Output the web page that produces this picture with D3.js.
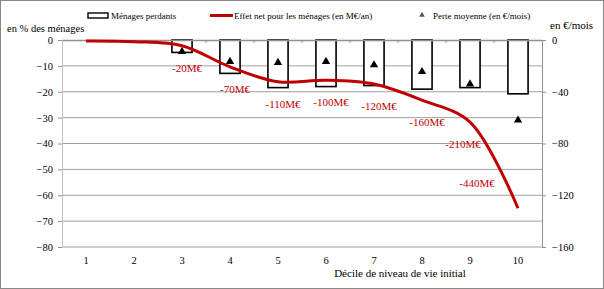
<!DOCTYPE html>
<html><head><meta charset="utf-8">
<script src="https://cdn.jsdelivr.net/npm/d3@7"></script>
<style>
body{margin:0;background:#fff;}
text{font-family:"Liberation Serif","Times New Roman",serif;}
</style></head>
<body><svg id="c" width="604" height="289"></svg>
<script>
const deciles = ["1","2","3","4","5","6","7","8","9","10"];
const menagesPerdants = [0, 0, -4.8, -12.9, -18.4, -18.0, -17.6, -19.0, -18.4, -20.8]; // % des ménages
const perteMoyenne = [null, null, -9, -16.7, -17.5, -16.7, -19.3, -24.5, -34, -62]; // €/mois
const effetNet = [-2.6, -4.4, -15, -70, -109, -105, -115, -157, -214, -439]; // M€/an
const effetLabels = [null, null, "-20M€", "-70M€", "-110M€", "-100M€", "-120M€", "-160M€", "-210M€", "-440M€"];
const leftTicks = [0, -10, -20, -30, -40, -50, -60, -70, -80];
const rightTicks = [0, -40, -80, -120, -160];

const svg = d3.select("#c");
const m = {l: 62, r: 542, t: 40, b: 247};

svg.append("rect").attr("x",0.5).attr("y",0.5).attr("width",603).attr("height",288)
  .attr("fill","none").attr("stroke","#888");

const x = d3.scaleBand().domain(deciles).range([m.l, m.r]).paddingInner(0.58).paddingOuter(0.29);
const xc = d => x(d) + x.bandwidth()/2;
const yL = d3.scaleLinear().domain([0, -80]).range([m.t, m.b]);
const yR = d3.scaleLinear().domain([0, -160]).range([m.t, m.b]);
const yM = d3.scaleLinear().domain([0, -540]).range([m.t, m.b]);

// gridlines
svg.append("g").selectAll("line").data(leftTicks.slice(1)).join("line")
  .attr("x1", m.l).attr("x2", m.r).attr("y1", d => yL(d)).attr("y2", d => yL(d))
  .attr("stroke", "#a0a0a0").attr("stroke-width", 1);

// left axis
const gl = svg.append("g").attr("transform", `translate(${m.l},0)`)
  .call(d3.axisLeft(yL).tickValues(leftTicks).tickSize(4).tickSizeOuter(0).tickPadding(5));
gl.select(".domain").attr("stroke", "#c0c0c0");
gl.selectAll(".tick line").attr("stroke", "#909090");
gl.selectAll("text").attr("font-size", 10.5).attr("fill", "#000");

// right axis
const gr = svg.append("g").attr("transform", `translate(${m.r},0)`)
  .call(d3.axisRight(yR).tickValues(rightTicks).tickSize(4).tickSizeOuter(0).tickPadding(6));
gr.select(".domain").attr("stroke", "#909090");
gr.selectAll(".tick line").attr("stroke", "#909090");
gr.selectAll("text").attr("font-size", 10.5).attr("fill", "#000");

// bars
svg.append("g").selectAll("rect").data(deciles.map((d,i)=>({d, v: menagesPerdants[i]})).filter(o => o.v < 0)).join("rect")
  .attr("x", o => x(o.d)).attr("width", x.bandwidth())
  .attr("y", yL(0)).attr("height", o => yL(o.v) - yL(0))
  .attr("fill", "#fff").attr("stroke", "#000").attr("stroke-width", 1.6);

// zero line (top x axis)
const gx = svg.append("g").attr("transform", `translate(0,${m.t})`)
  .call(d3.axisBottom(x).tickSize(0).tickFormat(""));
gx.select(".domain").attr("stroke", "#909090").attr("stroke-width", 1.6);
const bounds = d3.range(1, 10).map(i => m.l + (m.r - m.l) * i / 10);
svg.append("g").selectAll("line").data(bounds).join("line")
  .attr("x1", d => d).attr("x2", d => d).attr("y1", m.t).attr("y2", m.t + 3)
  .attr("stroke", "#909090");

// triangles
svg.append("g").selectAll("path").data(deciles.map((d,i)=>({d, v: perteMoyenne[i]})).filter(o => o.v !== null)).join("path")
  .attr("d", d3.symbol(d3.symbolTriangle, 30))
  .attr("transform", o => `translate(${xc(o.d)},${yR(o.v)})`)
  .attr("fill", "#000");

// line
const line = d3.line().x((v,i) => xc(deciles[i])).y(v => yM(v)).curve(d3.curveCatmullRom.alpha(0.5));
svg.append("path").datum(effetNet).attr("d", line)
  .attr("fill", "none").attr("stroke", "#c00000").attr("stroke-width", 3);

// line labels
svg.append("g").selectAll("text").data(effetLabels.map((t,i)=>({t, i})).filter(o => o.t)).join("text")
  .attr("x", o => xc(deciles[o.i]) + (o.i === 9 ? -41 : o.i === 8 ? -7 : 5))
  .attr("y", o => yM(effetNet[o.i]) + (o.i === 9 ? -21 : 26))
  .attr("text-anchor", "middle").attr("font-size", 11).attr("fill", "#c00000")
  .text(o => o.t);

// x labels
svg.append("g").selectAll("text").data(deciles).join("text")
  .attr("x", d => xc(d)).attr("y", 264).attr("text-anchor", "middle")
  .attr("font-size", 10.5).text(d => d);

svg.append("text").attr("x", 400).attr("y", 277).attr("text-anchor", "middle")
  .attr("font-size", 11).text("Décile de niveau de vie initial");
svg.append("text").attr("x", 7).attr("y", 32).attr("font-size", 10.5).text("en % des ménages");
svg.append("text").attr("x", 550).attr("y", 29).attr("font-size", 11).text("en €/mois");

// legend
const lg = svg.append("g");
lg.append("rect").attr("x", 88).attr("y", 13).attr("width", 20).attr("height", 5)
  .attr("fill", "#fff").attr("stroke", "#000").attr("stroke-width", 1.4);
lg.append("text").attr("x", 111).attr("y", 19).attr("font-size", 9).text("Ménages perdants");
lg.append("line").attr("x1", 210).attr("x2", 233).attr("y1", 15.5).attr("y2", 15.5)
  .attr("stroke", "#c00000").attr("stroke-width", 3);
lg.append("text").attr("x", 234).attr("y", 19).attr("font-size", 9).text("Effet net pour les ménages (en M€/an)");
lg.append("path").attr("d", d3.symbol(d3.symbolTriangle, 14)).attr("transform", "translate(422,15)").attr("fill", "#555");
lg.append("text").attr("x", 433).attr("y", 19).attr("font-size", 9).text("Perte moyenne (en €/mois)");
</script></body></html>
